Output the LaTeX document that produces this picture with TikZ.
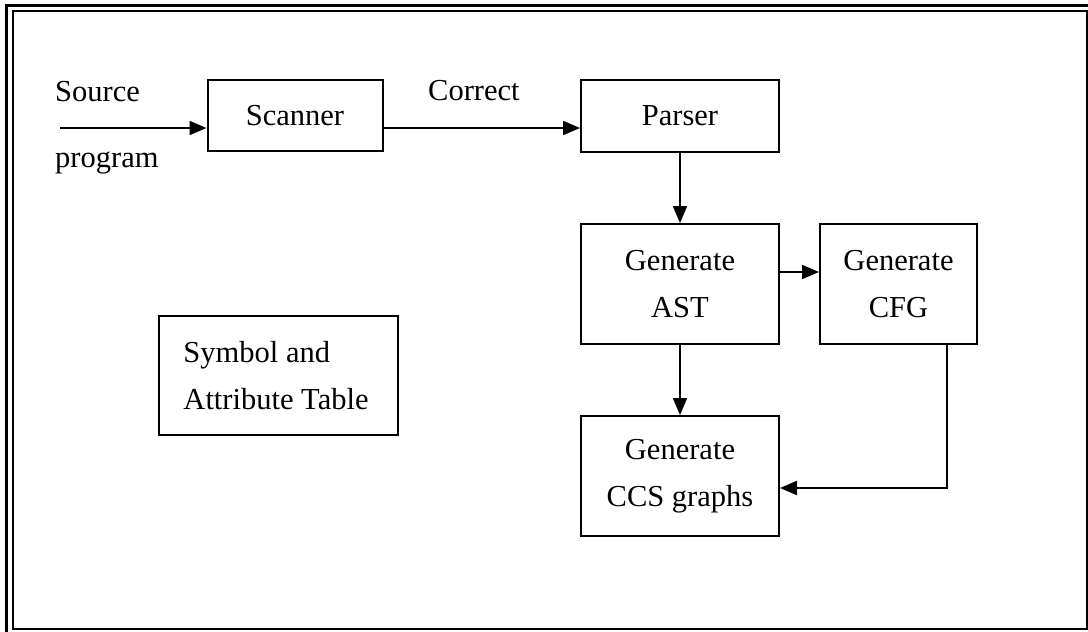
\documentclass[tikz,border=0pt]{standalone}
\usepackage{fontspec}
\setmainfont{Liberation Serif}
\usetikzlibrary{arrows.meta}
\begin{document}
\begin{tikzpicture}[x=1pt,y=-1pt,
  box/.style={draw,line width=2pt,inner sep=0pt},
  lbl/.style={font=\fontsize{30.5}{47}\selectfont,inner sep=0pt},
  flow/.style={line width=2pt,-{Triangle[length=17pt,width=14pt]}},
  every node/.style={font=\fontsize{30.5}{47}\selectfont}]
\useasboundingbox (0,0) rectangle (1088,632);
% double frame: heavy rule on the left and top, thin inner rectangle
\draw[line width=2pt] (13,11) rectangle (1087,629);
\draw[line width=3pt] (6,632) -- (6,5.5) -- (1088,5.5);

% boxes
\node[box,minimum width=175pt,minimum height=71pt] (scan) at (295,115.5) {};
\node[lbl] at (scan.center) {Scanner};
\node[box,minimum width=198pt,minimum height=72pt] (parse) at (680,116) {};
\node[lbl] at (parse.center) {Parser};
\node[box,minimum width=198pt,minimum height=120pt] (ast) at (680,284) {};
\node[lbl,align=center] at (ast.center) {Generate\\AST};
\node[box,minimum width=157pt,minimum height=120pt] (cfg) at (898.5,284) {};
\node[lbl,align=center] at (cfg.center) {Generate\\CFG};
\node[box,minimum width=198pt,minimum height=120pt] (ccs) at (680,476) {};
\node[lbl,align=center] at (ccs.center) {Generate\\CCS graphs};
\node[box,minimum width=239pt,minimum height=119pt] (sym) at (278.5,375.5) {};
\node[lbl,align=left] at ([xshift=-2.5pt]sym.center) {Symbol and\\Attribute Table};

% labels
\node[lbl,anchor=base west] (src) at (55,101) {Source};
\node[lbl,anchor=base west] (prog) at (55,167) {program};
\node[lbl,anchor=base west] (corr) at (428,100) {Correct};

% connectors
\coordinate (in) at (60,128);
\draw[flow] (in) -- (in -| scan.west);
\draw[flow] (scan.east |- 0,128) -- (parse.west |- 0,128);
\draw[flow] (parse.south) -- (ast.north);
\draw[flow] (ast.east |- 0,272) -- (cfg.west |- 0,272);
\draw[flow] (ast.south) -- (ccs.north);
\draw[flow] (cfg.south -| 947,0) -- (947,488) -- (ccs.east |- 0,488);
\end{tikzpicture}
\end{document}
